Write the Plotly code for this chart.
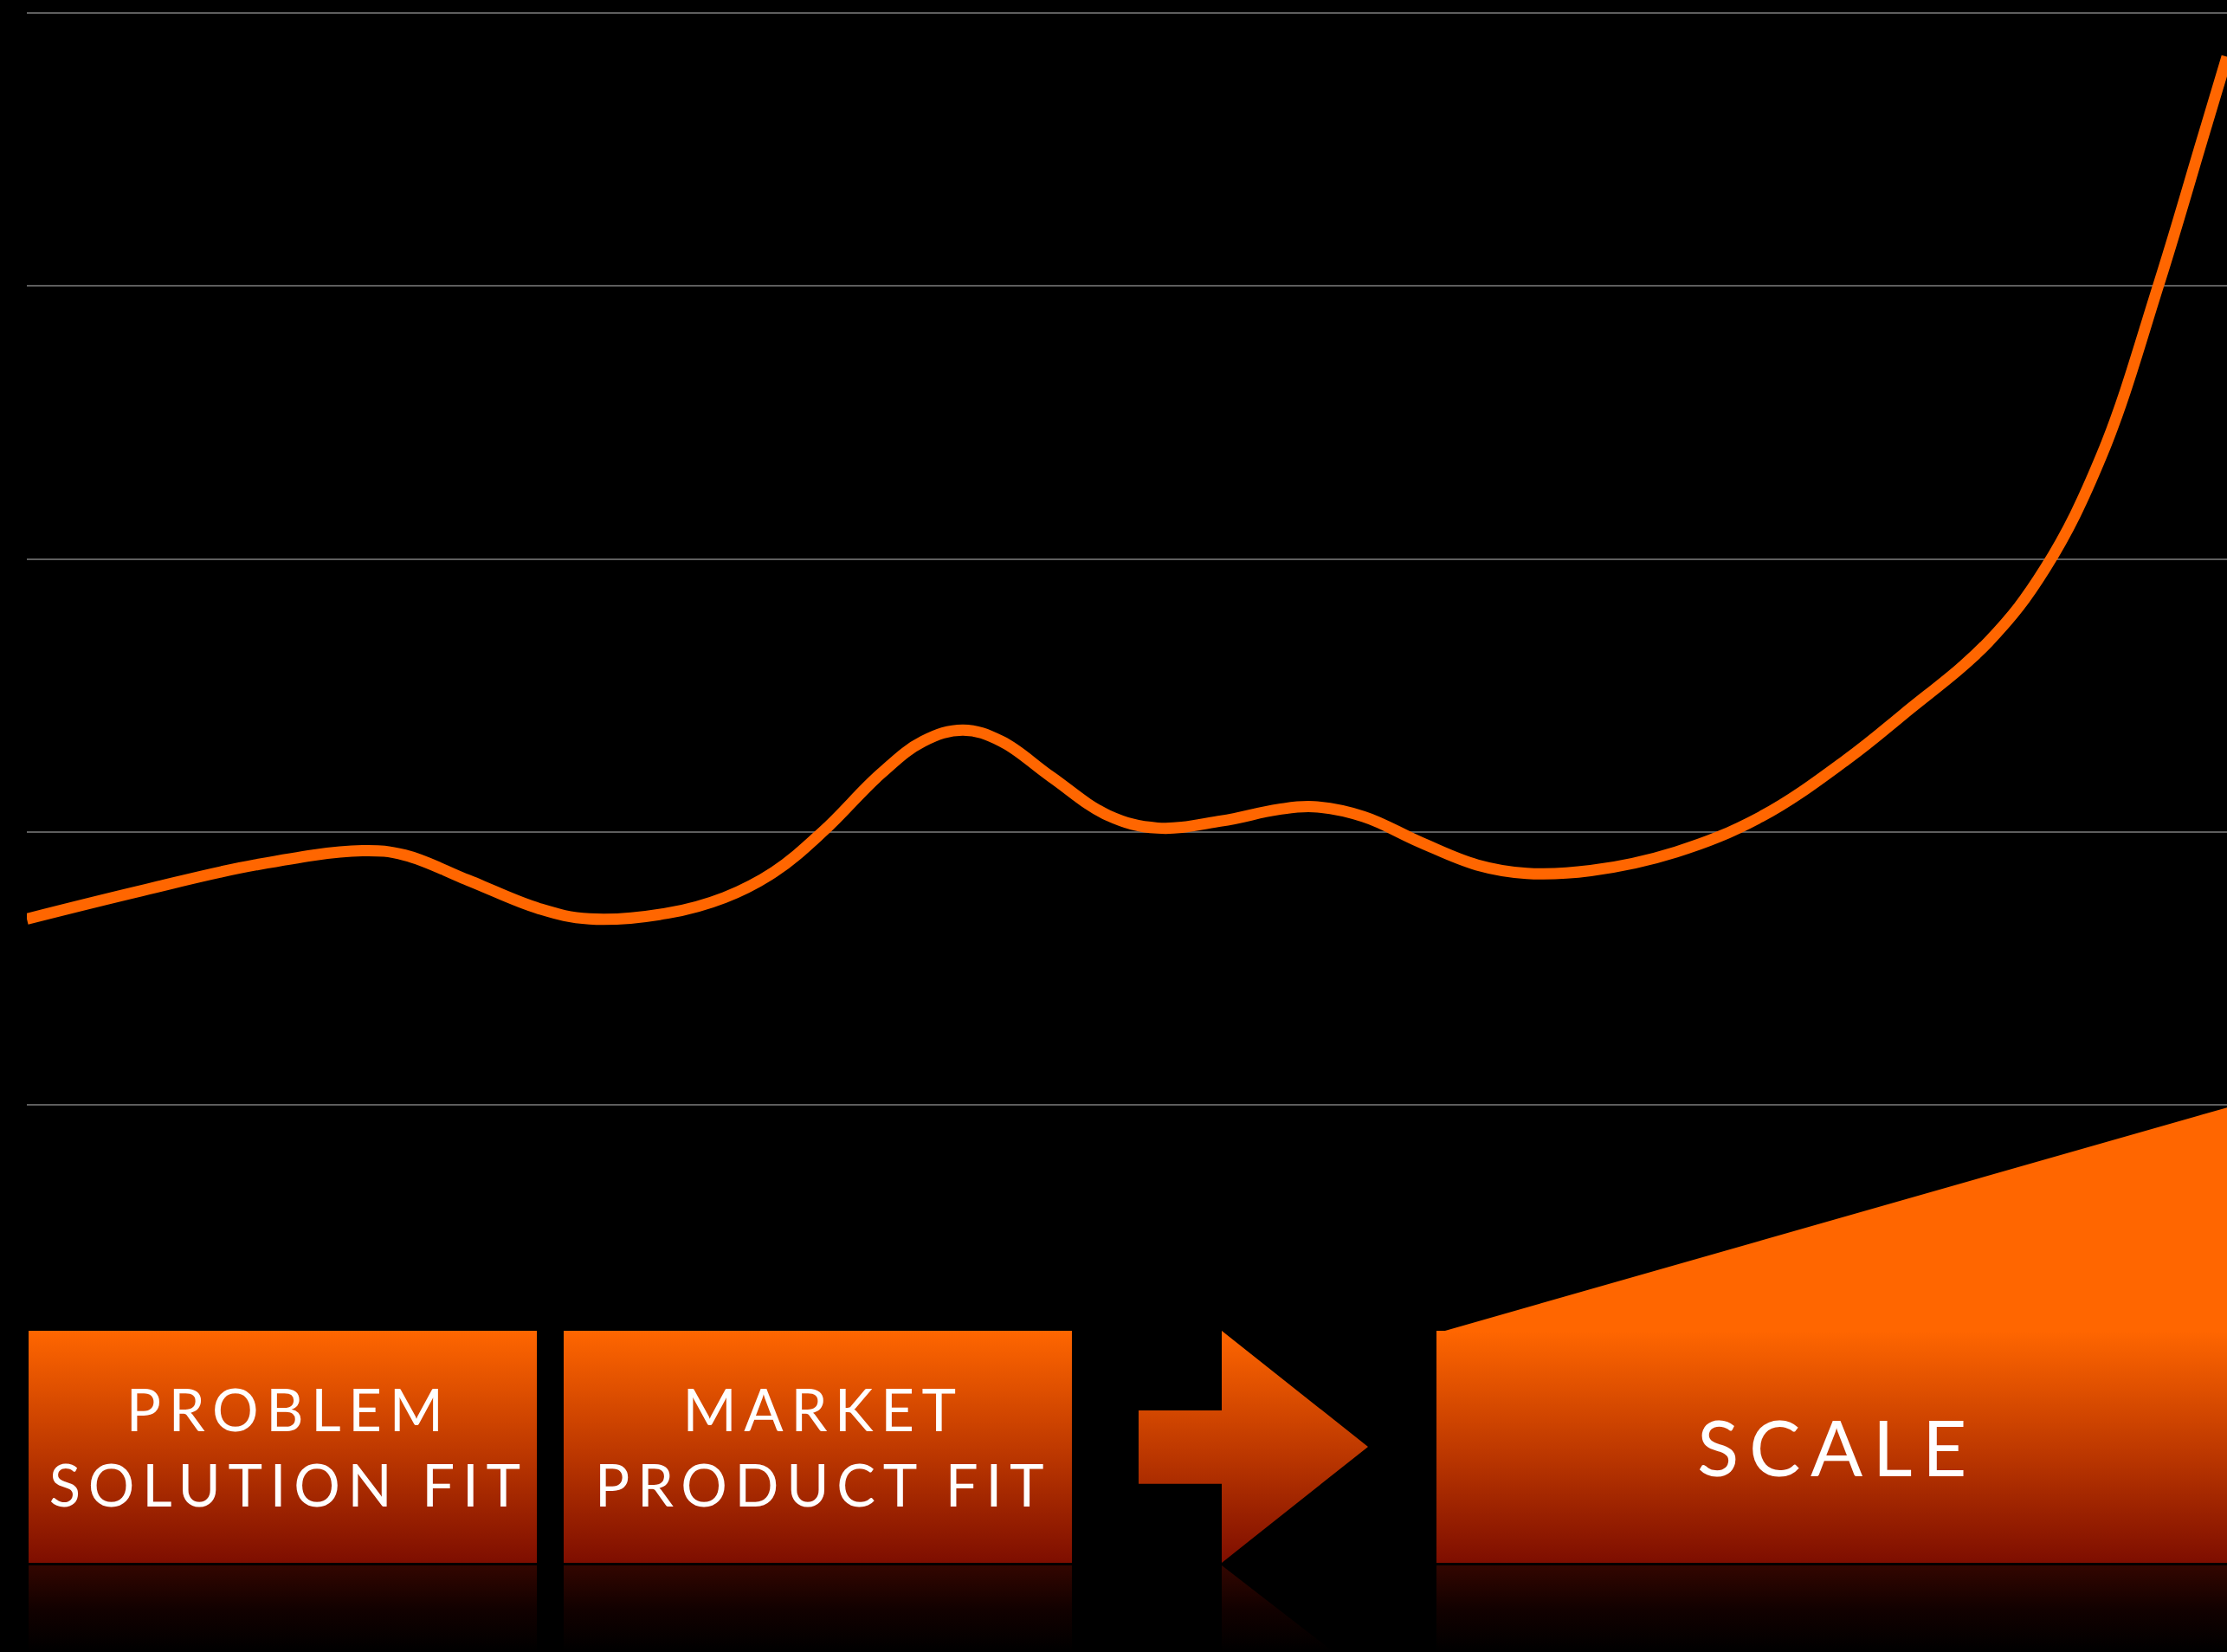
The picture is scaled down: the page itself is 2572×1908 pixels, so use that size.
import plotly.graph_objects as go

# ---- data ----
curve_x = [0.0, 5.23, 10.40, 15.24, 17.18, 20.08, 23.31, 25.57, 29.12, 31.70, 33.96, 36.22,
           38.80, 40.74, 42.55, 44.29, 46.55, 49.13, 51.39, 54.30, 56.88, 58.49, 60.75, 63.33,
           65.91, 68.17, 71.08, 74.95, 78.83, 82.70, 85.28, 89.15, 91.74, 94.32, 96.90, 98.84, 100.0]
curve_y = [1.681, 1.785, 1.879, 1.931, 1.915, 1.822, 1.718, 1.681, 1.702, 1.759, 1.853, 2.004,
           2.212, 2.332, 2.373, 2.332, 2.202, 2.061, 2.014, 2.040, 2.082, 2.092, 2.056, 1.962,
           1.879, 1.848, 1.858, 1.926, 2.056, 2.264, 2.430, 2.696, 2.966, 3.383, 4.007, 4.527, 4.840]

grid_vals = [1, 2, 3, 4, 5]

stage_labels = ["PROBLEM<br>SOLUTION FIT", "MARKET<br>PRODUCT FIT", "SCALE"]
stage_x0 = [0.08, 24.40, 64.07]
stage_x1 = [23.18, 47.50, 100.0]

# ---- layout geometry (data-axis units) ----
BOX_TOP, BOX_BOT = 0.172, -0.678
REF_TOP, REF_BOT = -0.688, -1.005
SCALE_FLAT_END, SCALE_TOP_RIGHT = 64.46, 0.990
ARROW = dict(x0=50.53, xs=54.31, xt=60.96, st=-0.120, sb=-0.389, tip=-0.253)

ORANGE = "#ff6600"
DARK = "#7e0e00"
grad = dict(type="vertical", colorscale=[[0, DARK], [0.5, "#c03a00"], [1, ORANGE]],
            start=BOX_BOT, stop=BOX_TOP)
refl = dict(type="vertical", colorscale=[[0, "#000000"], [0.5, "#120100"], [1, "#330600"]],
            start=REF_BOT, stop=REF_TOP)

fig = go.Figure()

def poly(xs, ys, g):
    fig.add_trace(go.Scatter(x=xs + [xs[0]], y=ys + [ys[0]], mode="lines", fill="toself",
                             line=dict(width=0, color="rgba(0,0,0,0)"), fillgradient=g,
                             hoverinfo="skip", showlegend=False))

# stage boxes + reflections
for i in range(2):
    x0, x1 = stage_x0[i], stage_x1[i]
    poly([x0, x1, x1, x0], [BOX_BOT, BOX_BOT, BOX_TOP, BOX_TOP], grad)
    poly([x0, x1, x1, x0], [REF_BOT, REF_BOT, REF_TOP, REF_TOP], refl)

# scale shape
x0, x1 = stage_x0[2], stage_x1[2]
poly([x0, x1, x1, SCALE_FLAT_END, x0],
     [BOX_BOT, BOX_BOT, SCALE_TOP_RIGHT, BOX_TOP, BOX_TOP], grad)
poly([x0, x1, x1, x0], [REF_BOT, REF_BOT, REF_TOP, REF_TOP], refl)

# arrow
a = ARROW
poly([a["x0"], a["xs"], a["xs"], a["xt"], a["xs"], a["xs"], a["x0"]],
     [a["st"], a["st"], BOX_TOP, a["tip"], BOX_BOT, a["sb"], a["sb"]], grad)
# arrow reflection (mirrored triangle)
poly([a["xs"], a["xt"], a["xs"]],
     [REF_TOP, 2 * BOX_BOT - a["tip"], 2 * BOX_BOT - BOX_TOP], refl)

# growth curve
fig.add_trace(go.Scatter(x=curve_x, y=curve_y, mode="lines",
                         line=dict(color=ORANGE, width=13, shape="spline", smoothing=1.1),
                         hoverinfo="skip", showlegend=False))

# labels
mid_y = (BOX_TOP + BOX_BOT) / 2
for i, lab in enumerate(stage_labels):
    fig.add_annotation(x=(stage_x0[i] + stage_x1[i]) / 2, y=mid_y, text=lab, showarrow=False,
                       font=dict(family="Lato", size=89 if i == 2 else 67, color="white"),
                       xanchor="center", yanchor="middle", align="center", xshift=6)

fig.update_layout(
    width=2572, height=1908,
    margin=dict(l=31, r=0, t=0, b=0),
    paper_bgcolor="black", plot_bgcolor="black",
    xaxis=dict(range=[0, 100], showgrid=False, zeroline=False, showticklabels=False,
               showline=False, ticks=""),
    yaxis=dict(range=[REF_BOT, 5.048], tickvals=grid_vals, showgrid=True, gridcolor="#5e5e5e",
               gridwidth=2, zeroline=False, showticklabels=False, showline=False, ticks=""),
)

post = ("var s=document.createElement('style');"
        "s.innerHTML='html,body{margin:0;padding:0;background:#000;overflow:hidden}"
        ".annotation-text{letter-spacing:0.13em}';"
        "document.head.appendChild(s);")
fig.write_html("out.html", post_script=post, config={"displayModeBar": False})
